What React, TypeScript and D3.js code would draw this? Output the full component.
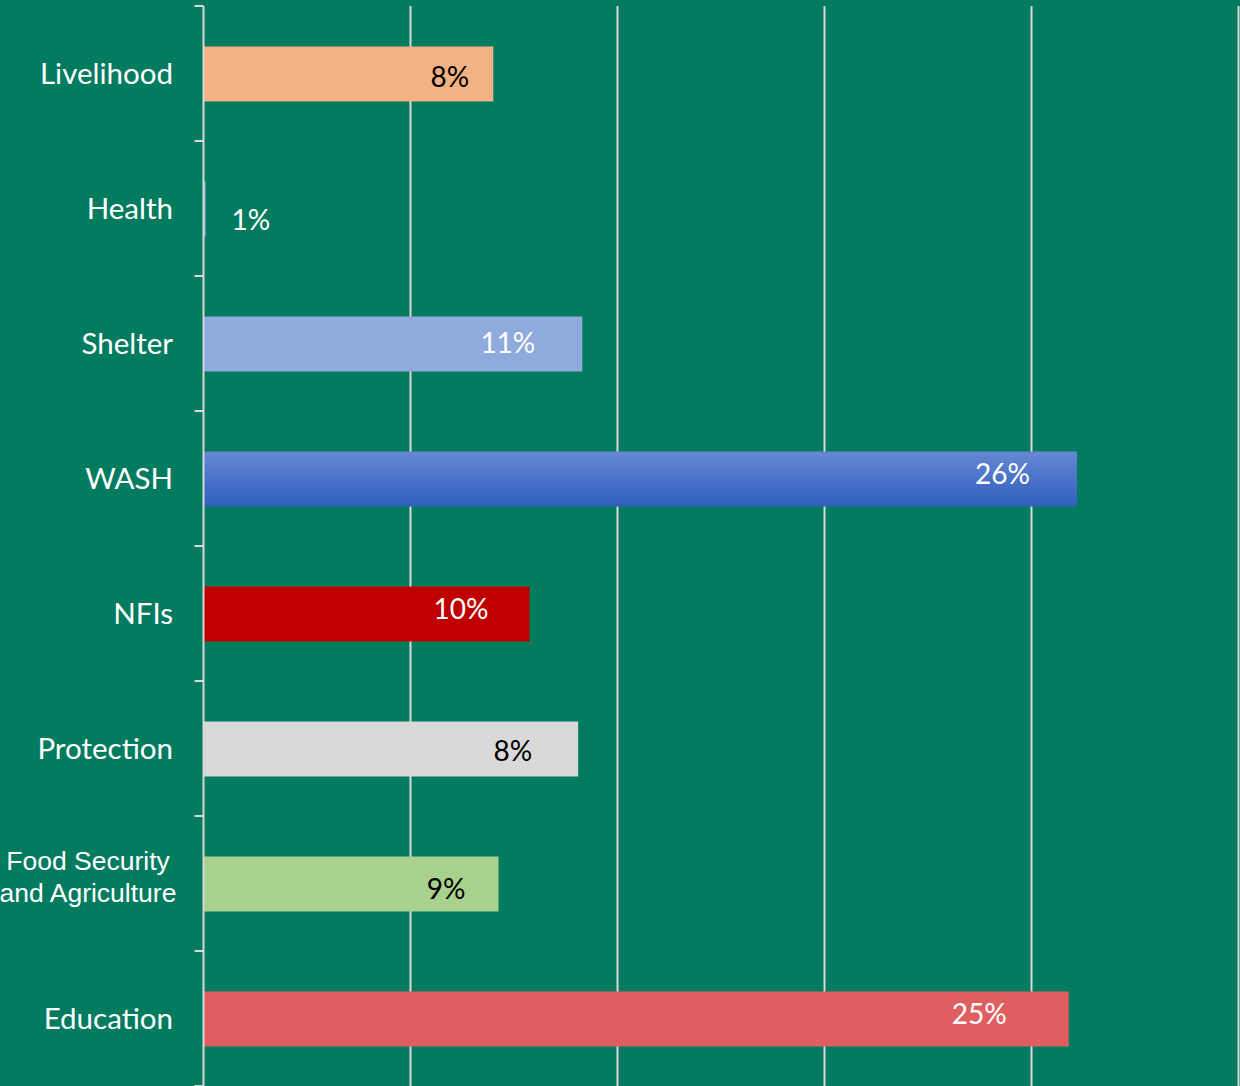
import React from "react";
import * as d3 from "d3";

const categories = ["Livelihood", "Health", "Shelter", "WASH", "NFIs", "Protection", "Food Security and Agriculture", "Education"];
const values = [1.4, 0.01, 1.83, 4.22, 1.575, 1.81, 1.425, 4.18];
const shareLabels = ["8%", "1%", "11%", "26%", "10%", "8%", "9%", "25%"];
const gridTicks = [0, 1, 2, 3, 4, 5];

const barColors = ["#F4B183", "#8FAADC", "#8FAADC", "url(#washGrad)", "#C00000", "#D9D9D9", "#A9D18E", "#DF5F61"];
const labelColors = ["#000", "#fff", "#fff", "#fff", "#fff", "#000", "#000", "#fff"];
// manual label nudges (as in the original chart)
const labelDx = [-24, 26, -47, -47, -41, -46, -33, -62];
const labelDy = [4, 12, 0, -4, -4, 3, 6, -4];

const W = 1240;
const H = 1086;
const left = 203.5;
const top = 6;

export default function App() {
  const x = d3.scaleLinear().domain([0, 5]).range([left, left + 1035]);
  const y = d3.scaleBand<string>().domain(categories).range([top, top + 135 * 8]).paddingInner(0).paddingOuter(0);
  const bw = y.bandwidth();
  const barH = 55;
  const tickYs = categories.map((c) => y(c)!).concat([top + 135 * 8]);

  return (
    <svg width={W} height={H} style={{ position: "absolute", left: 0, top: 0, display: "block" }}>
      <defs>
        <linearGradient id="washGrad" x1="0" y1="0" x2="0" y2="1">
          <stop offset="0%" stopColor="#6687D3" />
          <stop offset="100%" stopColor="#2F5FBE" />
        </linearGradient>
      </defs>
      <rect x={0} y={0} width={W} height={H} fill="#027B5F" />
      {gridTicks.slice(1).map((t) => (
        <line key={t} x1={x(t)} x2={x(t)} y1={top} y2={H} stroke="#D9D9D9" strokeWidth={2} />
      ))}
      {categories.map((c, i) => {
        const cy = y(c)! + bw / 2;
        return (
          <rect key={c} x={x(0)} y={cy - barH / 2 + 0.5} width={Math.max(2, x(values[i]) - x(0))} height={barH} fill={barColors[i]} />
        );
      })}
      <line x1={left} x2={left} y1={top} y2={H} stroke="#D9D9D9" strokeWidth={2} />
      {tickYs.map((ty, i) => (
        <line key={i} x1={left - 9} x2={left} y1={ty} y2={ty} stroke="#D9D9D9" strokeWidth={2} />
      ))}
      {categories.map((c, i) => {
        const cy = y(c)! + bw / 2;
        if (c === "Food Security and Agriculture") {
          return (
            <text key={c} x={88} textAnchor="middle" fill="#fff" fontFamily="'Liberation Sans', Arial, sans-serif" fontSize={26.5}>
              <tspan x={88} y={cy - 23} dy="0.35em">Food Security</tspan>
              <tspan x={88} y={cy + 9} dy="0.35em">and Agriculture</tspan>
            </text>
          );
        }
        return (
          <text key={c} x={173} y={cy} dy="0.35em" textAnchor="end" fill="#fff" fontFamily="Lato, 'Open Sans', sans-serif" fontSize={29.5}>
            {c}
          </text>
        );
      })}
      {categories.map((c, i) => {
        const cy = y(c)! + bw / 2;
        const isOutside = i === 1;
        return (
          <text
            key={c + "lbl"}
            x={x(values[i]) + labelDx[i]}
            y={cy + labelDy[i]}
            dy="0.35em"
            textAnchor={isOutside ? "start" : "end"}
            fill={labelColors[i]}
            fontFamily="Lato, 'Open Sans', sans-serif"
            fontSize={28}
          >
            {shareLabels[i]}
          </text>
        );
      })}
    </svg>
  );
}
